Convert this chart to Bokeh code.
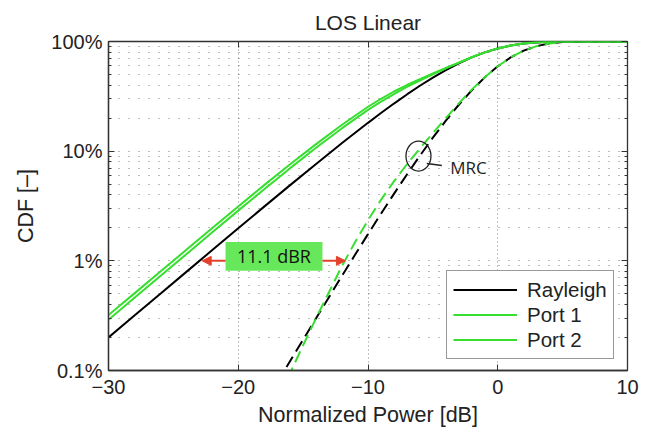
from bokeh.plotting import figure
from bokeh.models import (Range1d, FixedTicker, CustomJSTickFormatter, Legend, LegendItem,
                          LinearAxis, LogAxis, Arrow, NormalHead, Label, BoxAnnotation)
from bokeh.embed import file_html
from bokeh.resources import INLINE
from bokeh.core.properties import value

# ---------------- data ----------------
power_db = [-30, -28, -26, -24, -22, -20, -18, -16, -14, -12, -10, -9, -8, -7, -6, -5,
            -4, -3, -2, -1, 0, 1, 2, 3, 4, 5, 6, 7, 8, 10]
rayleigh = [0.20, 0.317, 0.501, 0.793, 1.254, 1.98, 3.12, 4.90, 7.65, 11.86, 18.13, 22.26,
            27.17, 32.90, 39.49, 46.87, 54.90, 63.30, 71.70, 79.58, 86.47, 91.94, 95.80,
            98.15, 99.34, 99.82, 99.97, 100, 100, 100]
port1 = [0.32, 0.505, 0.80, 1.26, 1.99, 3.13, 4.90, 7.60, 11.6, 17.4, 25.4, 30.05, 35.0,
         40.1, 45.4, 51.1, 57.4, 64.2, 71.9, 79.6, 86.5, 92.0, 95.9, 98.2, 99.4, 99.85,
         99.97, 100, 100, 100]
port2 = [0.29, 0.46, 0.727, 1.15, 1.82, 2.87, 4.50, 7.00, 10.75, 16.2, 23.8, 28.3, 33.1,
         38.5, 44.0, 50.2, 56.8, 64.0, 71.8, 79.6, 86.5, 91.95, 95.85, 98.2, 99.4, 99.85,
         99.97, 100, 100, 100]

mrc_db = [-17, -16, -15, -14, -13, -12, -11, -10, -9, -8, -7, -6, -5, -4, -3, -2, -1,
          0, 1, 2, 3, 4, 5, 6, 7, 8, 10]
rayleigh_mrc = [0.078, 0.122, 0.191, 0.300, 0.468, 0.732, 1.134, 1.752, 2.69, 4.08, 6.13,
                9.09, 13.27, 18.98, 26.5, 35.96, 47.1, 59.4, 71.6, 82.5, 90.8, 96.0, 98.7,
                99.7, 99.95, 100, 100]
port_mrc = [0.05, 0.095, 0.17, 0.30, 0.52, 0.90, 1.48, 2.35, 3.6, 5.3, 7.6, 10.6, 14.6,
            20.0, 27.3, 36.4, 47.3, 59.5, 71.6, 82.5, 90.8, 96.0, 98.7, 99.7, 99.95, 100, 100]

x_ticks = [-30, -20, -10, 0, 10]
y_ticks = [0.1, 1, 10, 100]
y_minor = [m * d for d in (0.1, 1, 10) for m in range(2, 10)]

series_names = ["Rayleigh", "Port 1", "Port 2"]
gain_text = "11.1 dBR"
gain_from, gain_to, gain_level = -22.78, -11.74, 1.0
mrc_text = "MRC"

# ---------------- styles ----------------
GREEN = "#36de2e"
BOX_GREEN = "#66e85a"
RED = "#e5402c"
FONT = "Liberation Sans"

p = figure(width=654, height=429, output_backend="svg", toolbar_location=None,
           x_range=Range1d(-30, 10), y_range=Range1d(0.1, 100), y_axis_type="log",
           min_border_left=108, min_border_right=27, min_border_top=41, min_border_bottom=57,
           title="LOS Linear")
p.title.align = "center"
p.title.text_font = FONT
p.title.text_font_size = "21px"
p.title.text_font_style = "normal"
p.title.text_color = "#222"
p.title.standoff = 15
p.outline_line_color = "#333"
p.outline_line_width = 1.3
p.background_fill_color = "white"
p.border_fill_color = "white"

xax = p.xaxis[0]
yax = p.yaxis[0]
xax.ticker = FixedTicker(ticks=x_ticks)
yax.ticker = FixedTicker(ticks=y_ticks, minor_ticks=y_minor)
xax.formatter = CustomJSTickFormatter(code="return tick < 0 ? '\u2212' + Math.abs(tick) : String(tick);")
yax.formatter = CustomJSTickFormatter(code="return tick + '%';")
xax.axis_label = "Normalized Power [dB]"
yax.axis_label = "CDF [\u2013]"
for ax in (xax, yax):
    ax.axis_label_text_font = FONT
    ax.axis_label_text_font_size = "21.5px"
    ax.axis_label_text_font_style = "normal"
    ax.axis_label_text_color = "#222"
    ax.major_label_text_font = FONT
    ax.major_label_text_font_size = "20px"
    ax.major_label_text_color = "#222"
    ax.major_tick_in = 6
    ax.major_tick_out = 0
    ax.minor_tick_in = 3
    ax.minor_tick_out = 0
    ax.major_tick_line_color = "#333"
    ax.minor_tick_line_color = "#333"
    ax.axis_line_color = "#333"
    ax.axis_line_width = 1.3
xax.minor_tick_line_color = None
xax.major_label_standoff = 9
xax.axis_label_standoff = 6
yax.major_label_standoff = 6
yax.axis_label_standoff = 10

top_ax = LinearAxis(ticker=FixedTicker(ticks=x_ticks), major_label_text_font_size="1px",
                    major_label_text_alpha=0, major_label_standoff=0,
                    major_tick_in=6, major_tick_out=0, minor_tick_line_color=None,
                    axis_line_color=None, major_tick_line_color="#333")
right_ax = LogAxis(ticker=FixedTicker(ticks=y_ticks, minor_ticks=y_minor),
                   major_label_text_font_size="1px", major_label_text_alpha=0,
                   major_label_standoff=0, major_tick_in=6, major_tick_out=0,
                   minor_tick_in=3, minor_tick_out=0, axis_line_color=None,
                   major_tick_line_color="#333", minor_tick_line_color="#333")
p.add_layout(top_ax, "above")
p.add_layout(right_ax, "right")

p.xgrid.grid_line_color = "#888"
p.xgrid.grid_line_dash = "1 3"
p.ygrid.grid_line_color = "#777"
p.ygrid.grid_line_dash = "1 9"
p.ygrid.minor_grid_line_color = "#777"
p.ygrid.minor_grid_line_dash = "1 9"

# MRC dashed curves
p.line(mrc_db, rayleigh_mrc, line_color="black", line_width=2, line_dash="12 6")
p.line(mrc_db, port_mrc, line_color=GREEN, line_width=2, line_dash="12 6", line_dash_offset=9)

# single-branch curves
r_ray = p.line(power_db, rayleigh, line_color="black", line_width=2)
r_p1 = p.line(power_db, port1, line_color=GREEN, line_width=2)
r_p2 = p.line(power_db, port2, line_color=GREEN, line_width=2)

# gain annotation
p.add_layout(BoxAnnotation(left=-20.98, right=-13.51, bottom=0.811, top=1.486,
                           fill_color=BOX_GREEN, fill_alpha=1, line_color=None))
p.add_layout(Arrow(x_start=-20.98, y_start=gain_level, x_end=gain_from, y_end=gain_level,
                   line_color=RED, line_width=2,
                   end=NormalHead(size=9, fill_color=RED, line_color=RED)))
p.add_layout(Arrow(x_start=-13.51, y_start=gain_level, x_end=gain_to, y_end=gain_level,
                   line_color=RED, line_width=2,
                   end=NormalHead(size=9, fill_color=RED, line_color=RED)))
p.add_layout(Label(x=-17.25, y=1.10, text=gain_text, text_align="center",
                   text_baseline="middle", text_font="Open Sans", text_font_size="18px",
                   text_color="#111"))

# MRC marker
p.ellipse(x=[-6.11], y=[9.02], width=25, height=30, width_units="screen",
          height_units="screen", fill_color=None, line_color="#222", line_width=1.3)
p.line([-5.47, -4.31], [7.7, 7.4], line_color="#222", line_width=1.5)
p.add_layout(Label(x=-3.67, y=7.06, text=mrc_text, text_align="left",
                   text_baseline="middle", text_font="Open Sans", text_font_size="17px",
                   text_color="#222"))

legend = Legend(items=[LegendItem(label=series_names[0], renderers=[r_ray]),
                       LegendItem(label=series_names[1], renderers=[r_p1]),
                       LegendItem(label=series_names[2], renderers=[r_p2])],
                location=(338, 11), padding=6, spacing=0, margin=0,
                label_height=25, glyph_height=25, glyph_width=64, label_standoff=10,
                label_text_font=FONT, label_text_font_size="20.5px", label_text_color="#222",
                border_line_color="#333", border_line_width=1.2,
                background_fill_color="white", background_fill_alpha=1)
p.add_layout(legend, "center")

open("out.html", "w").write(file_html(p, INLINE))
